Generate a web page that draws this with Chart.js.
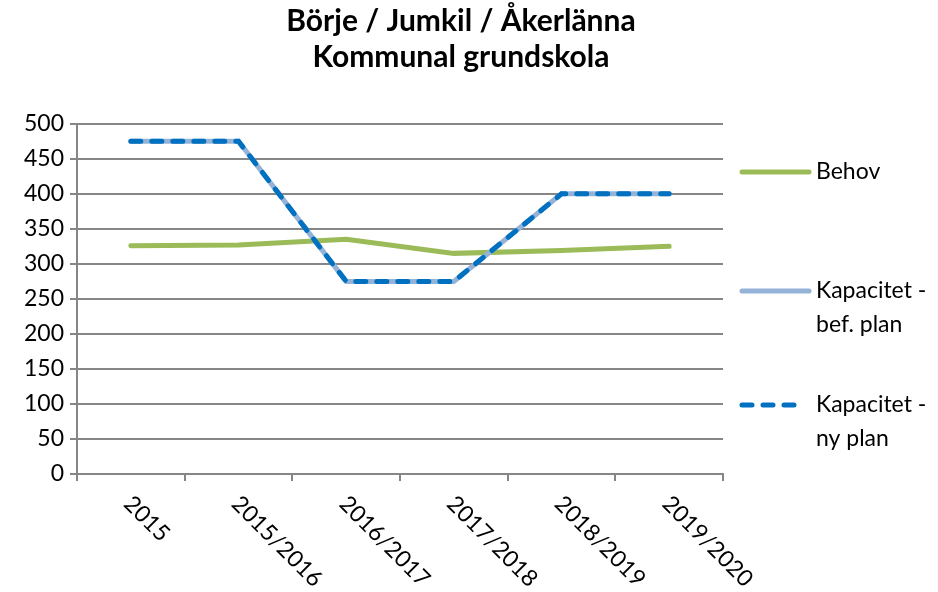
<!DOCTYPE html>
<html>
<head>
<meta charset="utf-8">
<script src="https://cdn.jsdelivr.net/npm/chart.js@4"></script>
<style>
  html, body { margin: 0; padding: 0; background: #fff; }
  #wrap { width: 938px; height: 592px; }
</style>
</head>
<body>
<div id="wrap"><canvas id="myLineChart" width="938" height="592"></canvas></div>
<script>
// Years / school years
var labels = ['2015', '2015/2016', '2016/2017', '2017/2018', '2018/2019', '2019/2020'];
// Behov (need)
var behov = [326, 327, 335, 315, 319, 325];
// Kapacitet - befintlig plan
var befPlan = [475, 475, 275, 275, 400, 400];
// Kapacitet - ny plan
var nyPlan = [475, 475, 275, 275, 400, 400];
var yTicks = [0, 50, 100, 150, 200, 250, 300, 350, 400, 450, 500];

var FONT = 'Lato, "Open Sans", sans-serif';

// draws the rotated x labels (clockwise) and the legend on the right
var extras = {
  id: 'extras',
  afterDraw: function (chart) {
    var ctx = chart.ctx;
    var xs = chart.scales.x;
    var area = chart.chartArea;
    ctx.save();
    ctx.fillStyle = '#000';
    ctx.font = '23px ' + FONT;
    labels.forEach(function (lab, i) {
      var x = xs.getPixelForValue(i);
      ctx.save();
      ctx.translate(x - 3, area.bottom + 26);
      ctx.rotate(Math.PI / 4);
      ctx.textAlign = 'left';
      ctx.textBaseline = 'middle';
      ctx.fillText(lab, 0, 0);
      ctx.restore();
    });

    // legend
    var items = [
      { ds: 0, lines: ['Behov'], y: 172 },
      { ds: 1, lines: ['Kapacitet -', 'bef. plan'], y: 291 },
      { ds: 2, lines: ['Kapacitet -', 'ny plan'], y: 405 }
    ];
    items.forEach(function (it) {
      var ds = chart.data.datasets[it.ds];
      ctx.save();
      ctx.strokeStyle = ds.borderColor;
      ctx.lineWidth = ds.borderWidth;
      ctx.lineCap = 'round';
      ctx.setLineDash(ds.borderDash || []);
      ctx.beginPath();
      ctx.moveTo(742, it.y);
      ctx.lineTo(ds.borderDash ? 802 : 809, it.y);
      ctx.stroke();
      ctx.restore();
      ctx.textAlign = 'left';
      ctx.textBaseline = 'middle';
      it.lines.forEach(function (t, k) {
        ctx.fillText(t, 816, it.y + k * 34);
      });
    });
    ctx.restore();
  }
};

var ctx = document.getElementById('myLineChart').getContext('2d');

var myLineChart = new Chart(ctx, {
  type: 'line',
  data: {
    labels: labels,
    datasets: [{
      label: 'Behov',
      data: behov,
      borderColor: '#9BBB59',
      borderWidth: 5,
      borderCapStyle: 'round',
      order: 2,
      fill: false
    }, {
      label: 'Kapacitet - bef. plan',
      data: befPlan,
      borderColor: '#95B3D7',
      borderWidth: 5,
      borderCapStyle: 'round',
      order: 1,
      fill: false
    }, {
      label: 'Kapacitet - ny plan',
      data: nyPlan,
      borderColor: '#0070C0',
      borderWidth: 5,
      borderDash: [10, 11],
      borderCapStyle: 'round',
      order: 0,
      fill: false
    }]
  },
  plugins: [extras],
  options: {
    responsive: false,
    animation: false,
    elements: { point: { radius: 0, hoverRadius: 0 }, line: { tension: 0 } },
    layout: { padding: { left: 0, right: 16, top: 0, bottom: 0 } },
    plugins: {
      legend: { display: false },
      tooltip: { enabled: false },
      title: {
        display: true,
        text: ['Börje / Jumkil / Åkerlänna', 'Kommunal grundskola'],
        color: '#000',
        font: { family: FONT, size: 30, weight: 'bold', lineHeight: 1.18 },
        padding: { top: 4, bottom: 49 }
      }
    },
    scales: {
      x: {
        offset: true,
        grid: { display: true, drawOnChartArea: false, offset: true, color: '#868686', lineWidth: 2, tickLength: 7 },
        border: { color: '#868686', width: 2 },
        ticks: { display: false },
        afterFit: function (s) { s.height = 118; }
      },
      y: {
        min: 0,
        max: 500,
        afterBuildTicks: function (s) { s.ticks = yTicks.map(function (v) { return { value: v }; }); },
        grid: { color: '#868686', lineWidth: 2, tickLength: 7 },
        border: { color: '#868686', width: 2 },
        ticks: { color: '#000', font: { family: FONT, size: 23 }, padding: 6 },
        afterFit: function (s) { s.width = 77; }
      },
      // empty right-hand box that reserves room for the legend
      legendSpace: {
        type: 'linear',
        position: 'right',
        grid: { display: false },
        border: { display: false },
        ticks: { display: false },
        afterFit: function (s) { s.width = 199; }
      }
    }
  }
});
</script>
</body>
</html>
